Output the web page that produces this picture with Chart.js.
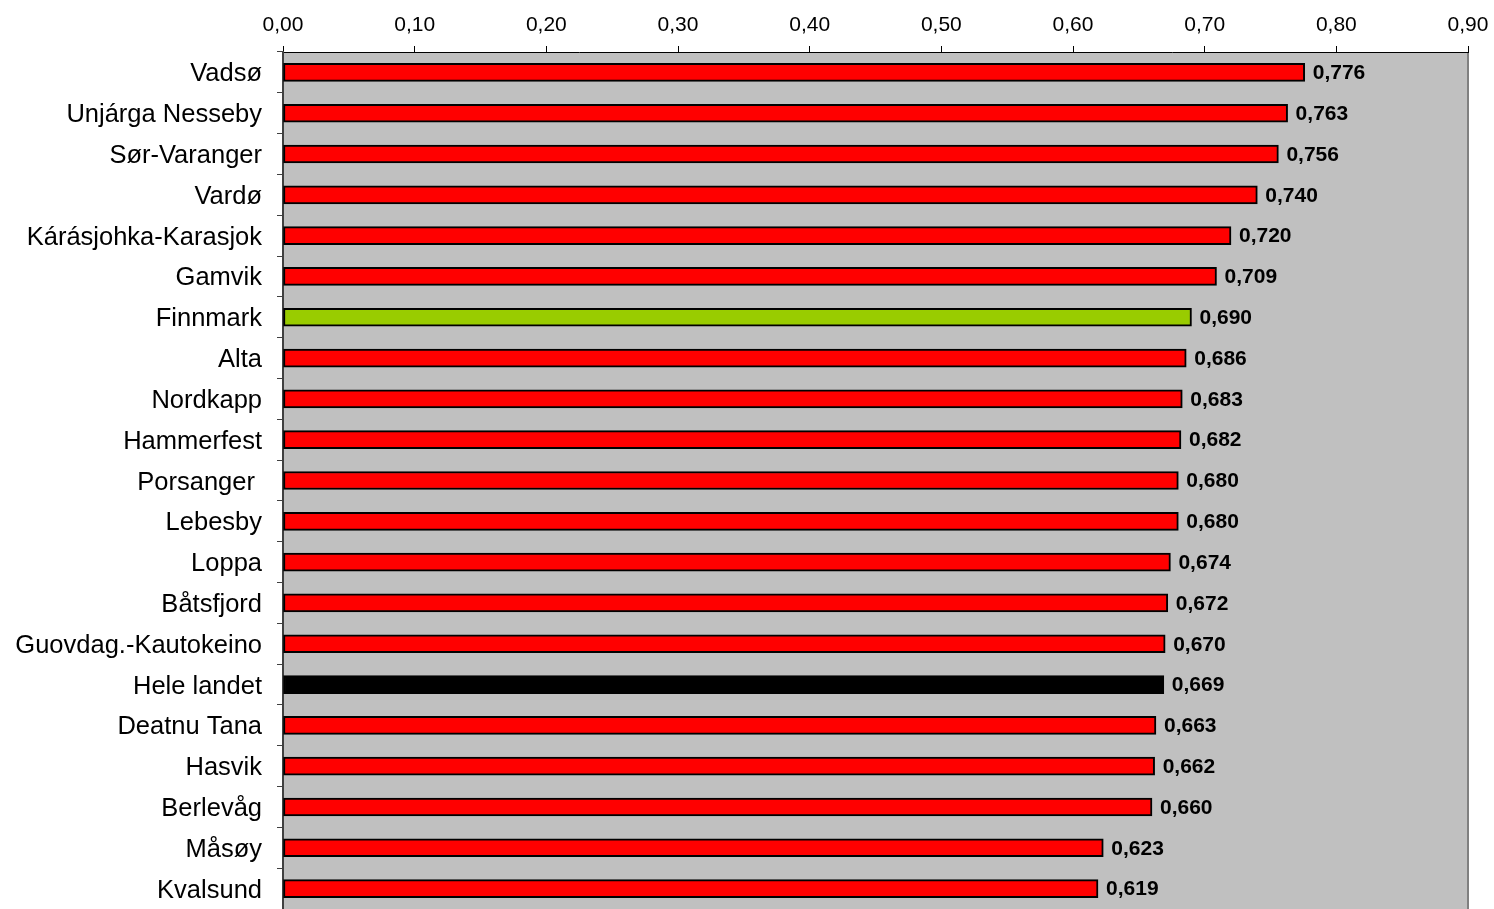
<!DOCTYPE html>
<html><head><meta charset="utf-8">
<script src="https://cdn.jsdelivr.net/npm/chart.js@4/dist/chart.umd.min.js"></script>
<style>html,body{margin:0;padding:0;background:#fff;overflow:hidden}#wrap{width:1494px;height:909px}</style>
</head><body><div id="wrap"><canvas id="c" width="1494" height="909"></canvas></div>
<script>
const categories = ["Vadsø","Unjárga Nesseby","Sør-Varanger","Vardø","Kárásjohka-Karasjok","Gamvik","Finnmark","Alta","Nordkapp","Hammerfest","Porsanger ","Lebesby","Loppa","Båtsfjord","Guovdag.-Kautokeino","Hele landet","Deatnu Tana","Hasvik","Berlevåg","Måsøy","Kvalsund"];
const values = [0.776,0.763,0.756,0.740,0.720,0.709,0.690,0.686,0.683,0.682,0.680,0.680,0.674,0.672,0.670,0.669,0.663,0.662,0.660,0.623,0.619];
const barColors = categories.map(c => c === "Finnmark" ? "#99CC00" : (c === "Hele landet" ? "#000000" : "#FF0000"));
const xMin = 0, xMax = 0.9, xStep = 0.1;
const fmt = (v, d) => v.toFixed(d).replace('.', ',');

const bgPlugin = {
  id: 'bg',
  beforeDraw(chart) {
    const {ctx, chartArea: a} = chart;
    ctx.save();
    ctx.fillStyle = '#C0C0C0';
    ctx.fillRect(a.left, a.top, a.right - a.left, a.bottom - a.top);
    ctx.strokeStyle = '#808080';
    ctx.lineWidth = 2;
    ctx.beginPath();
    ctx.moveTo(a.right, a.top);
    ctx.lineTo(a.right, a.bottom);
    ctx.stroke();
    ctx.restore();
  }
};
const labelPlugin = {
  id: 'vals',
  afterDatasetsDraw(chart) {
    const {ctx} = chart;
    const meta = chart.getDatasetMeta(0);
    ctx.save();
    ctx.font = 'bold 21px "Liberation Sans", Arial, sans-serif';
    ctx.fillStyle = '#000';
    ctx.textAlign = 'left';
    ctx.textBaseline = 'middle';
    meta.data.forEach((bar, i) => {
      ctx.fillText(fmt(values[i], 3), bar.x + 8, bar.y + 1);
    });
    ctx.restore();
  }
};

new Chart(document.getElementById('c'), {
  type: 'bar',
  data: {
    labels: categories,
    datasets: [{
      data: values,
      backgroundColor: barColors,
      borderColor: '#000000',
      borderWidth: 2,
      borderSkipped: false,
      barThickness: 18,
      categoryPercentage: 1,
      barPercentage: 1
    }]
  },
  options: {
    indexAxis: 'y',
    responsive: false,
    animation: false,
    devicePixelRatio: 1,
    layout: {padding: {left: 0, right: 26, top: 0, bottom: 0}},
    plugins: {legend: {display: false}, tooltip: {enabled: false}},
    scales: {
      x: {
        position: 'top',
        min: xMin, max: xMax,
        afterFit(s) { s.height = 52; s.paddingRight = 0; s.paddingLeft = 0; },
        ticks: {
          stepSize: xStep,
          callback: v => fmt(v, 2),
          font: {family: '"Liberation Sans", Arial, sans-serif', size: 21},
          color: '#000',
          padding: 8,
          maxRotation: 0,
          autoSkip: false
        },
        grid: {drawOnChartArea: false, drawTicks: true, tickLength: 6, color: '#000'},
        border: {display: true, color: '#000', width: 1}
      },
      y: {
        afterFit(s) { s.width = 283; s.paddingTop = 0; s.paddingBottom = 0; },
        ticks: {
          font: {family: '"Liberation Sans", Arial, sans-serif', size: 25.5},
          color: '#000',
          padding: 15,
          labelOffset: 2,
          autoSkip: false
        },
        grid: {offset: true, drawOnChartArea: false, drawTicks: true, tickLength: 6, color: '#404040'},
        border: {display: true, color: '#404040', width: 2}
      }
    }
  },
  plugins: [bgPlugin, labelPlugin]
});
</script></body></html>
